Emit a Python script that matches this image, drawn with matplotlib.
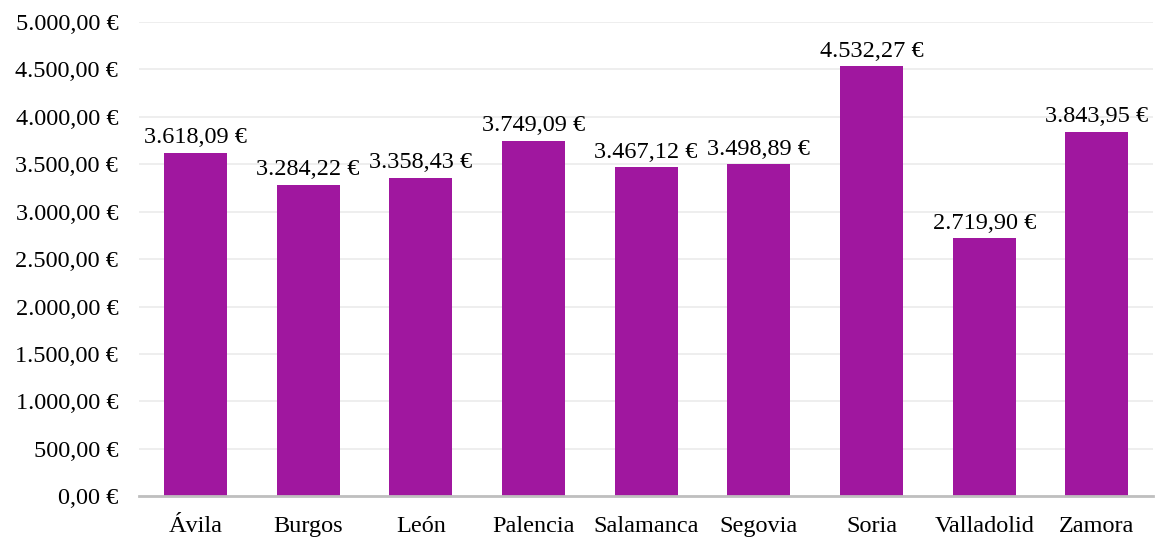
import matplotlib.pyplot as plt
from matplotlib.ticker import FuncFormatter

plt.rcParams['font.family'] = ['Liberation Serif', 'DejaVu Serif']

provincias = ['Ávila', 'Burgos', 'León', 'Palencia', 'Salamanca', 'Segovia',
              'Soria', 'Valladolid', 'Zamora']
valores = [3618.09, 3284.22, 3358.43, 3749.09, 3467.12, 3498.89,
           4532.27, 2719.90, 3843.95]


def euro(v, pos=None):
    s = f'{v:,.2f}'.replace(',', 'X').replace('.', ',').replace('X', '.')
    return s + ' €'


fig = plt.figure(figsize=(11.59, 5.37), dpi=100)
ax = fig.add_axes([0.12, 0.076, 0.875, 0.883])

x = range(len(provincias))
bars = ax.bar(x, valores, width=0.56, color='#A0179F', zorder=3)
for xi, v in zip(x, valores):
    ax.text(xi, v + 50, euro(v), ha='center', va='bottom', fontsize=17.5)

ax.set_xlim(-0.5, len(provincias) - 0.5)
ax.set_ylim(0, 5000)
ax.set_yticks(range(0, 5001, 500))
ax.yaxis.set_major_formatter(FuncFormatter(euro))
ax.set_xticks(list(x))
ax.set_xticklabels(provincias)
ax.tick_params(axis='both', length=0, labelsize=17.5)
ax.tick_params(axis='y', pad=15)
ax.tick_params(axis='x', pad=14)
ax.grid(axis='y', color='#EBEBEB', linewidth=1.2, zorder=0)
for side in ['top', 'right', 'left']:
    ax.spines[side].set_visible(False)
ax.spines['bottom'].set_color('#BFBFBF')
ax.spines['bottom'].set_linewidth(2)
ax.spines['bottom'].set_zorder(4)

fig.savefig('out.png', dpi=100)
